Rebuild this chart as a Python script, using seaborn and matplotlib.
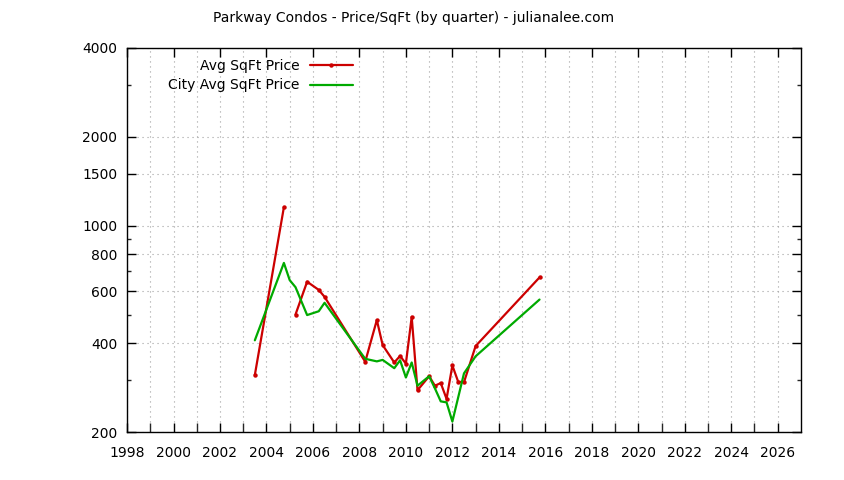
import numpy as np
import pandas as pd
import matplotlib
matplotlib.use("Agg")
import matplotlib.pyplot as plt
import seaborn as sns
from matplotlib.ticker import FixedLocator, NullFormatter

# Avg price per sqft for the complex (by quarter); no sale in 2005 Q1 -> line breaks there
avg_quarters = [2003.5, 2004.75, 2005.25, 2005.75, 2006.25, 2006.5, 2008.25, 2008.75,
                2009.0, 2009.5, 2009.75, 2010.0, 2010.25, 2010.5, 2011.0, 2011.25,
                2011.5, 2011.75, 2012.0, 2012.25, 2012.5, 2013.0, 2015.75]
avg_price = [312, 1155, 500, 646, 606, 574, 346, 479,
             394, 344, 362, 341, 491, 277, 309, 287,
             293, 259, 336, 296, 295, 391, 668]
avg_segment = [0, 0] + [1] * 21

# City average price per sqft
city_quarters = [2003.5, 2004.75, 2005.0, 2005.25, 2005.75, 2006.25, 2006.5, 2008.25,
                 2008.75, 2009.0, 2009.5, 2009.75, 2010.0, 2010.25, 2010.5, 2011.0,
                 2011.25, 2011.5, 2011.75, 2012.0, 2012.5, 2013.0, 2015.75]
city_price = [409, 748, 654, 619, 498, 513, 548, 354,
              347, 351, 329, 350, 306, 344, 287, 309,
              281, 254, 252, 217, 316, 361, 562]

y_major = [200, 400, 600, 800, 1000, 1500, 2000, 4000]
y_minor = [300, 500, 700, 900, 3000]

avg_df = pd.DataFrame({"year": avg_quarters, "price": avg_price, "seg": avg_segment})
city_df = pd.DataFrame({"year": city_quarters, "price": city_price})

sns.set_style("ticks")
plt.rcParams["font.family"] = ["DejaVu Sans"]
plt.rcParams["text.color"] = "black"

fig = plt.figure(figsize=(8.44, 4.8), dpi=100)
ax = fig.add_axes([0.1505, 0.1, 0.7985, 0.8])

red = "#cc0000"
green = "#00aa00"
sns.lineplot(data=avg_df, x="year", y="price", units="seg", estimator=None, ax=ax,
             color=red, lw=1.6, marker="o", markersize=3.2, markeredgewidth=0,
             label="Avg SqFt Price")
sns.lineplot(data=city_df, x="year", y="price", ax=ax, color=green, lw=1.6,
             label="City Avg SqFt Price")

ax.set_yscale("log")
ax.set_xlim(1998, 2027)
ax.set_ylim(200, 4000)
ax.yaxis.set_major_locator(FixedLocator(y_major))
ax.yaxis.set_minor_locator(FixedLocator(y_minor))
ax.set_yticklabels([str(v) for v in y_major])
ax.yaxis.set_minor_formatter(NullFormatter())
ax.set_xticks(np.arange(1998, 2027, 2))
ax.set_xticks(np.arange(1999, 2027, 2), minor=True)
ax.set_xlabel("")
ax.set_ylabel("")

ax.tick_params(axis="both", which="major", direction="in", length=6.5, width=1,
               top=True, right=True, labelsize=10, colors="black")
ax.tick_params(axis="x", which="major", pad=10)
ax.tick_params(axis="y", which="major", pad=7)
ax.tick_params(axis="y", which="minor", direction="in", length=3, width=1, right=True)
ax.tick_params(axis="x", which="minor", direction="in", length=6.5, width=1, top=False)

for s in ax.spines.values():
    s.set_color("black")
    s.set_linewidth(1)

grid_kw = dict(color="#a0a0a0", linestyle=(0, (1, 3.5)), linewidth=0.8)
ax.grid(axis="x", which="both", **grid_kw)
ax.grid(axis="y", which="major", **grid_kw)

# one legend entry per series (the red one is split into two segments)
handles, labels = ax.get_legend_handles_labels()
uniq = dict(zip(labels, handles))
ax.legend(list(uniq.values()), list(uniq.keys()), loc="upper left", frameon=False,
          markerfirst=False, fontsize=10, handlelength=3.1, handletextpad=0.7,
          labelspacing=0.4, bbox_to_anchor=(0.047, 0.997), borderaxespad=0.3,
          labelcolor="black")

fig.text(0.49, 0.962, "Parkway Condos - Price/SqFt (by quarter) - julianalee.com",
         ha="center", va="center", fontsize=10, color="black")

fig.savefig("out.png", dpi=100)
plt.close(fig)
